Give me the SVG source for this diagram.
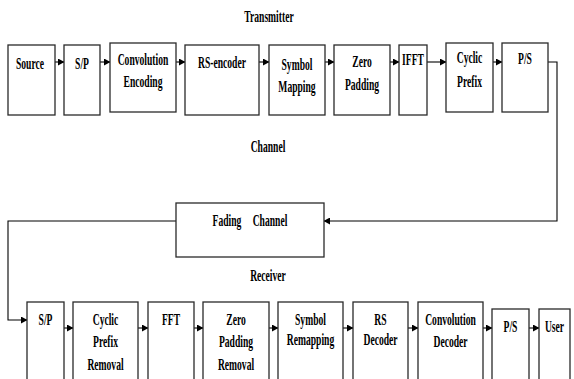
<svg xmlns="http://www.w3.org/2000/svg" width="574" height="379" viewBox="0 0 574 379">
<defs>
<marker id="ah" markerWidth="7" markerHeight="7" refX="6" refY="3.5" orient="auto" markerUnits="userSpaceOnUse">
<path d="M0,0 L6.5,3.5 L0,7 Z" fill="#000"/>
</marker>
<style>
rect{fill:#fff;stroke:#2a2a2a;stroke-width:1.3}
text{font-family:"Liberation Serif","Times New Roman",serif;font-weight:bold;font-size:16px;fill:#000;text-anchor:middle}
.c path{fill:none;stroke:#000;stroke-width:1.1}
</style>
</defs>
<rect x="0" y="0" width="574" height="379" style="stroke:none"/>
<text transform="translate(269,22) scale(0.6,1)">Transmitter</text>
<text transform="translate(268,152) scale(0.6,1)">Channel</text>
<text transform="translate(268,281) scale(0.6,1)">Receiver</text>
<g class="c">
<path d="M55,62H64" marker-end="url(#ah)"/>
<path d="M100,62H110" marker-end="url(#ah)"/>
<path d="M176,62H185" marker-end="url(#ah)"/>
<path d="M259,62H269" marker-end="url(#ah)"/>
<path d="M325,62H334" marker-end="url(#ah)"/>
<path d="M390,62H399" marker-end="url(#ah)"/>
<path d="M427,62H446" marker-end="url(#ah)"/>
<path d="M493,62H502" marker-end="url(#ah)"/>
<path d="M548,62H557V221H324" marker-end="url(#ah)"/>
<path d="M176,221H8V320H27" marker-end="url(#ah)"/>
<path d="M64,328H73" marker-end="url(#ah)"/>
<path d="M138,328H148" marker-end="url(#ah)"/>
<path d="M194,328H203" marker-end="url(#ah)"/>
<path d="M269,328H278" marker-end="url(#ah)"/>
<path d="M343,328H353" marker-end="url(#ah)"/>
<path d="M408,328H418" marker-end="url(#ah)"/>
<path d="M483,328H492" marker-end="url(#ah)"/>
<path d="M529,328H539" marker-end="url(#ah)"/>
</g>
<g id="source"><rect x="8" y="45" width="47" height="70"/><text transform="translate(30,69) scale(0.6,1)">Source</text></g>
<g id="sp1"><rect x="64" y="45" width="36" height="70"/><text transform="translate(82,69) scale(0.6,1)">S/P</text></g>
<g id="conv"><rect x="110" y="43" width="66" height="69"/><text transform="translate(143,65) scale(0.6,1)">Convolution</text><text transform="translate(143,87) scale(0.6,1)">Encoding</text></g>
<g id="rsenc"><rect x="185" y="45" width="74" height="70"/><text transform="translate(222,68) scale(0.6,1)">RS-encoder</text></g>
<g id="symmap"><rect x="269" y="45" width="56" height="70"/><text transform="translate(297,70) scale(0.6,1)">Symbol</text><text transform="translate(297,92) scale(0.6,1)">Mapping</text></g>
<g id="zeropad"><rect x="334" y="45" width="56" height="70"/><text transform="translate(362,67) scale(0.6,1)">Zero</text><text transform="translate(362,90) scale(0.6,1)">Padding</text></g>
<g id="ifft"><rect x="399" y="45" width="28" height="70"/><text transform="translate(413,65) scale(0.6,1)">IFFT</text></g>
<g id="cp"><rect x="446" y="43" width="47" height="69"/><text transform="translate(469.5,63) scale(0.6,1)">Cyclic</text><text transform="translate(469.5,87) scale(0.6,1)">Prefix</text></g>
<g id="ps1"><rect x="502" y="43" width="46" height="69"/><text transform="translate(525,64) scale(0.6,1)">P/S</text></g>
<g id="fading"><rect x="176" y="203" width="148" height="54"/><text transform="translate(227,226) scale(0.6,1)">Fading</text><text transform="translate(270,226) scale(0.6,1)">Channel</text></g>
<g id="sp2"><rect x="27" y="302" width="37" height="85"/><text transform="translate(45.5,325) scale(0.6,1)">S/P</text></g>
<g id="cpr"><rect x="73" y="302" width="65" height="85"/><text transform="translate(105.5,325) scale(0.6,1)">Cyclic</text><text transform="translate(105.5,347) scale(0.6,1)">Prefix</text><text transform="translate(105.5,370) scale(0.6,1)">Removal</text></g>
<g id="fft"><rect x="148" y="302" width="46" height="85"/><text transform="translate(171,325) scale(0.6,1)">FFT</text></g>
<g id="zpr"><rect x="203" y="302" width="66" height="85"/><text transform="translate(236,325) scale(0.6,1)">Zero</text><text transform="translate(236,347) scale(0.6,1)">Padding</text><text transform="translate(236,370) scale(0.6,1)">Removal</text></g>
<g id="symrem"><rect x="278" y="302" width="65" height="85"/><text transform="translate(310.5,325) scale(0.6,1)">Symbol</text><text transform="translate(310.5,345) scale(0.6,1)">Remapping</text></g>
<g id="rsdec"><rect x="353" y="302" width="55" height="85"/><text transform="translate(380.5,325) scale(0.6,1)">RS</text><text transform="translate(380.5,345) scale(0.6,1)">Decoder</text></g>
<g id="convdec"><rect x="418" y="302" width="65" height="85"/><text transform="translate(450.5,325) scale(0.6,1)">Convolution</text><text transform="translate(450.5,347) scale(0.6,1)">Decoder</text></g>
<g id="ps2"><rect x="492" y="309" width="37" height="78"/><text transform="translate(510.5,332) scale(0.6,1)">P/S</text></g>
<g id="user"><rect x="539" y="309" width="31" height="78"/><text transform="translate(554.5,332) scale(0.6,1)">User</text></g>
</svg>
